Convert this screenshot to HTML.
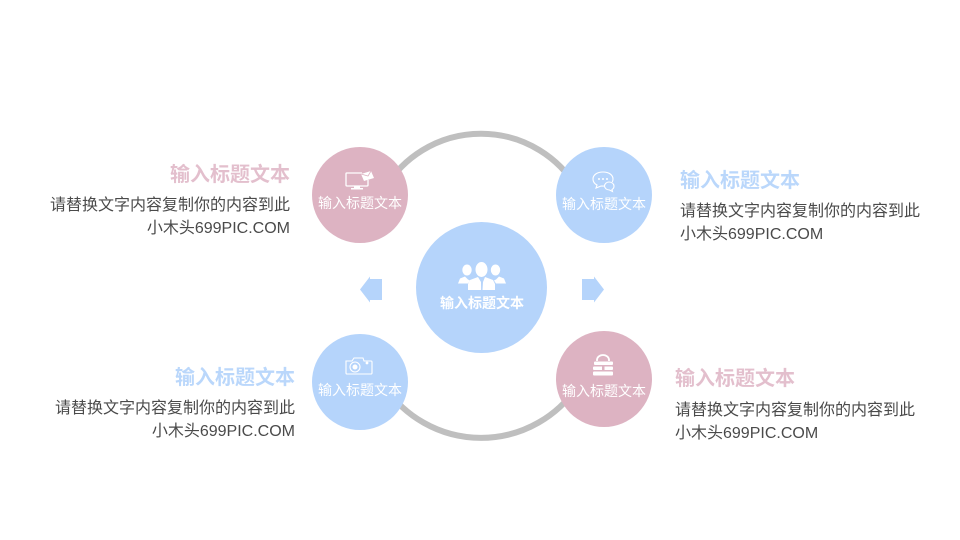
<!DOCTYPE html>
<html lang="zh">
<head>
<meta charset="utf-8">
<style>
html,body{margin:0;padding:0;background:#fff}
#s{position:relative;width:960px;height:540px;overflow:hidden;background:#fff;font-family:"Liberation Sans","Noto Sans CJK SC",sans-serif}
svg{position:absolute;left:0;top:0}
.t{position:absolute;white-space:nowrap;line-height:24px}
.h{font-size:20px;font-weight:700}
.b{font-size:16px;color:#4a4a4a;letter-spacing:0}
.r{text-align:right}
.c{font-size:14px;color:#fff;text-align:center;width:120px;line-height:16px;position:absolute;white-space:nowrap}
</style>
</head>
<body>
<div id="s">
<svg width="960" height="540" viewBox="0 0 960 540">
<path d="M385 188A112 112 0 0 1 577 188" fill="none" stroke="#BFBFBF" stroke-width="6"/>
<path d="M385 387A116 116 0 0 0 577 387" fill="none" stroke="#BFBFBF" stroke-width="6"/>
<circle cx="360" cy="195" r="48" fill="#DDB3C2"/>
<circle cx="604" cy="195" r="48" fill="#B5D4FB"/>
<circle cx="360" cy="382" r="48" fill="#B5D4FB"/>
<circle cx="604" cy="379" r="48" fill="#DDB3C2"/>
<circle cx="481.5" cy="287.5" r="65.5" fill="#B5D4FB"/>
<polygon points="360,289.500 370,276.500 370,279 382,279 382,300 370,300 370,302.500" fill="#B5D4FB"/>
<polygon points="604,289.500 594,276.500 594,279 582,279 582,300 594,300 594,302.500" fill="#B5D4FB"/>
<!-- monitor icon -->
<g fill="none" stroke="#fff" stroke-width="1.300">
<path d="M362 173H346.500Q346 173 346 174V185Q346 186 347 186H367Q368 186 368 185V180"/>
</g>
<path d="M354 186h6v2h3v1.500h-12v-1.500h3z" fill="#fff"/>
<polygon points="361,174 371,171 374,178 364,181" fill="#fff"/>
<path d="M361 174l7 2 3-5" fill="none" stroke="#DDB3C2" stroke-width=".8"/>
<!-- chat icon -->
<g fill="none" stroke="#fff" stroke-width="1.100">
<path d="M603 172c-6 0-10 3-10 7 0 3 2 5 4 6l-1 3 5-2c1 0 2 .2 3 0"/>
<path d="M603 172c6 0 10 3 10 7 0 1-.2 2-.7 3"/>
<path d="M609 182c3 0 5 2 5 4 0 1.500-1 3-2 3.500l.5 2-3-1.500c-3 0-5-2-5-4s2-4 4.500-4z"/>
</g>
<g fill="#fff"><circle cx="599" cy="179" r="1"/><circle cx="603" cy="179" r="1"/><circle cx="607" cy="179" r="1"/></g>
<!-- people icon -->
<g fill="#fff">
<ellipse cx="467" cy="270" rx="4.700" ry="5.500"/>
<ellipse cx="495.500" cy="270" rx="4.700" ry="5.500"/>
<ellipse cx="481.500" cy="269.500" rx="6" ry="7.500"/>
<path d="M458 283.500l2-5 5-2 3 3 2 1-2 3z"/>
<path d="M506 283.500l-2-5-5-2-3 3-2 1 2 3z"/>
<path d="M468 290v-6l2-4 8-3 3 5 .5 8zM495 290v-6l-2-4-8-3-2 5-.5 8z"/>
</g>
<path d="M481.500 279v11" stroke="#B5D4FB" stroke-width=".8"/>
<!-- camera icon -->
<g fill="none" stroke="#fff" stroke-width="1.100">
<path d="M347 361h5l2-3h9l1 3h7a1 1 0 0 1 1 1v11a1 1 0 0 1-1 1h-24a1 1 0 0 1-1-1v-12z"/>
<circle cx="355" cy="367" r="5"/>
</g>
<circle cx="355" cy="367" r="2.500" fill="#fff"/>
<circle cx="367" cy="363" r="1.400" fill="#fff"/>
<!-- lock icon -->
<path d="M597 361v-1a6 5 0 0 1 12 0v1" fill="none" stroke="#fff" stroke-width="1.800"/>
<g fill="#fff">
<rect x="594" y="361.500" width="19" height="3.500" rx="1"/>
<rect x="593" y="366.500" width="20" height="3.500" rx="1"/>
<rect x="593" y="371.500" width="20" height="4" rx="1"/>
</g>
<rect x="602" y="365" width="2.500" height="5" fill="#DDB3C2"/>
</svg>

<div class="c" style="left:300px;top:195px">输入标题文本</div>
<div class="c" style="left:544px;top:196px">输入标题文本</div>
<div class="c" style="left:300px;top:382px">输入标题文本</div>
<div class="c" style="left:544px;top:383px">输入标题文本</div>
<div class="c" style="left:422px;top:295px;font-weight:700">输入标题文本</div>

<div class="t h r" style="right:670px;top:163px;color:#E3BFCD">输入标题文本</div>
<div class="t b r" style="right:670px;top:194px">请替换文字内容复制你的内容到此</div>
<div class="t b r" style="right:670px;top:217px">小木头699PIC.COM</div>

<div class="t h" style="left:680px;top:169px;color:#BAD7FB">输入标题文本</div>
<div class="t b" style="left:680px;top:200px">请替换文字内容复制你的内容到此</div>
<div class="t b" style="left:680px;top:223px">小木头699PIC.COM</div>

<div class="t h r" style="right:665px;top:366px;color:#BAD7FB">输入标题文本</div>
<div class="t b r" style="right:665px;top:397px">请替换文字内容复制你的内容到此</div>
<div class="t b r" style="right:665px;top:420px">小木头699PIC.COM</div>

<div class="t h" style="left:675px;top:367px;color:#E3BFCD">输入标题文本</div>
<div class="t b" style="left:675px;top:399px">请替换文字内容复制你的内容到此</div>
<div class="t b" style="left:675px;top:422px">小木头699PIC.COM</div>
</div>
</body>
</html>
